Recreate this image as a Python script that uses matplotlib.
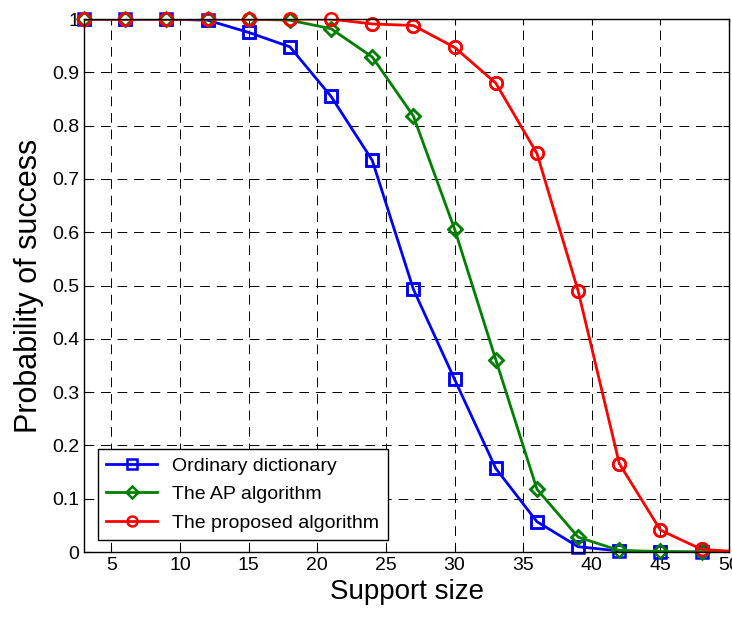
import matplotlib
matplotlib.use('Agg')
from matplotlib import pyplot as plt

plt.rcParams['font.family'] = ['Liberation Sans', 'DejaVu Sans']

support = [3, 6, 9, 12, 15, 18, 21, 24, 27, 30, 33, 36, 39, 42, 45, 48, 51]
ordinary = [1, 1, 1, 0.998, 0.975, 0.948, 0.855, 0.735, 0.493, 0.324, 0.157,
            0.057, 0.010, 0.002, 0.0, 0.0, 0.0]
ap_alg = [1, 1, 1, 1, 1, 0.998, 0.982, 0.929, 0.818, 0.606, 0.361,
          0.118, 0.028, 0.003, 0.001, 0.0, 0.0]
proposed = [1, 1, 1, 1, 1, 1, 1, 0.991, 0.988, 0.947, 0.880,
            0.748, 0.490, 0.166, 0.041, 0.005, 0.0]

fig = plt.figure(figsize=(7.32, 6.17), dpi=100)
ax = fig.add_axes([0.1148, 0.1053, 0.8812, 0.8637])

series = [
    (ordinary, 's', 9, (0, 0, 1), 'Ordinary dictionary'),
    (ap_alg, 'D', 7.5, (0, 0.5, 0), 'The AP algorithm'),
    (proposed, 'o', 9, (1, 0, 0), 'The proposed algorithm'),
]
for vals, mk, ms, col, lab in series:
    # line clipped to the axes, markers drawn unclipped on top
    ax.plot(support, vals, '-', marker=mk, color=col, lw=2, ms=ms, mew=1.8,
            mfc='none', label=lab, markevery=slice(0, len(support) - 1))
    ax.plot(support[:-1], vals[:-1], linestyle='none', marker=mk, color=col,
            ms=ms, mew=1.8, mfc='none', clip_on=False)

ax.set_xlim(3, 50)
ax.set_ylim(0, 1)
ax.set_xticks(range(5, 51, 5))
ax.set_yticks([i / 10 for i in range(11)])
ax.set_yticklabels(['0', '0.1', '0.2', '0.3', '0.4', '0.5', '0.6', '0.7', '0.8', '0.9', '1'])
ax.tick_params(direction='in', labelsize=14, top=True, right=True, length=4)
ax.grid(True, color='black', linestyle=(0, (10, 7)), lw=0.7)

ax.set_xlabel('Support size', fontsize=20, labelpad=4)
ax.set_ylabel('Probability of success', fontsize=22, labelpad=6)

leg = ax.legend(loc='lower left', bbox_to_anchor=(0.021, 0.022), fontsize=14,
                fancybox=False, framealpha=1, edgecolor='black',
                handlelength=2.6, borderpad=0.45, labelspacing=0.55,
                borderaxespad=0, markerscale=0.8)
leg.get_frame().set_linewidth(1)

for s in ax.spines.values():
    s.set_linewidth(1)

fig.savefig('out.png', dpi=100)
